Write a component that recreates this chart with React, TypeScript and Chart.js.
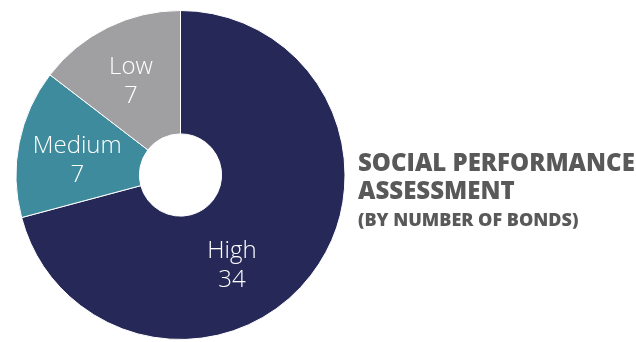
import React, { useEffect, useRef } from "react";
import { Chart, registerables } from "chart.js";

Chart.register(...registerables);

const categories = ["High", "Medium", "Low"];
const values = [34, 7, 7];
const colors = ["#262957", "#3E8B9D", "#A09FA2"];
const titleLines = ["SOCIAL PERFORMANCE", "ASSESSMENT"];
const subtitle = "(BY NUMBER OF BONDS)";
// per-label nudges (px) relative to the arc's mid-angle position
const labelNudge = [
  [-32, 26],
  [0, 6],
  [-3, 1],
];

const labelPlugin = {
  id: "sliceLabels",
  afterDatasetsDraw(chart: any) {
    const { ctx } = chart;
    const meta = chart.getDatasetMeta(0);
    ctx.save();
    ctx.fillStyle = "#ffffff";
    ctx.font = "300 24px 'Open Sans', 'Noto Sans', sans-serif";
    ctx.textAlign = "center";
    ctx.textBaseline = "middle";
    meta.data.forEach((arc: any, i: number) => {
      const p = arc.getProps(["x", "y", "startAngle", "endAngle", "outerRadius"], true);
      const mid = (p.startAngle + p.endAngle) / 2;
      const r = p.outerRadius * 0.64;
      const x = p.x + Math.cos(mid) * r + labelNudge[i][0];
      const y = p.y + Math.sin(mid) * r + labelNudge[i][1];
      ctx.fillText(categories[i], x, y - 14);
      ctx.fillText(String(values[i]), x, y + 15);
    });
    ctx.restore();
  },
};

const titlePlugin = {
  id: "sideTitle",
  afterDraw(chart: any) {
    const { ctx } = chart;
    ctx.save();
    ctx.fillStyle = "#595959";
    ctx.textAlign = "left";
    ctx.textBaseline = "alphabetic";
    ctx.font = "800 24px 'Open Sans', 'Noto Sans', sans-serif";
    ctx.fillText(titleLines[0], 358, 171);
    ctx.fillText(titleLines[1], 358, 199);
    ctx.font = "800 18px 'Open Sans', 'Noto Sans', sans-serif";
    ctx.fillText(subtitle, 358, 226);
    ctx.restore();
  },
};

export default function App() {
  const ref = useRef<HTMLCanvasElement>(null);
  useEffect(() => {
    if (!ref.current) return;
    const chart = new Chart(ref.current, {
      type: "doughnut",
      data: {
        labels: categories,
        datasets: [
          {
            data: values,
            backgroundColor: colors,
            borderColor: "#ffffff",
            borderWidth: 1,
          },
        ],
      },
      options: {
        animation: false,
        responsive: false,
        cutout: "25%",
        rotation: 0,
        layout: { padding: { left: 14, right: 289, top: 10, bottom: 2 } },
        plugins: {
          legend: { display: false },
          tooltip: { enabled: false },
          title: { display: false },
        },
      },
      plugins: [labelPlugin, titlePlugin],
    });
    return () => chart.destroy();
  }, []);
  return (
    <div style={{ position: "fixed", left: 0, top: 0, width: 636, height: 342, background: "#fff" }}>
      <canvas ref={ref} width={636} height={342} style={{ display: "block" }} />
    </div>
  );
}
